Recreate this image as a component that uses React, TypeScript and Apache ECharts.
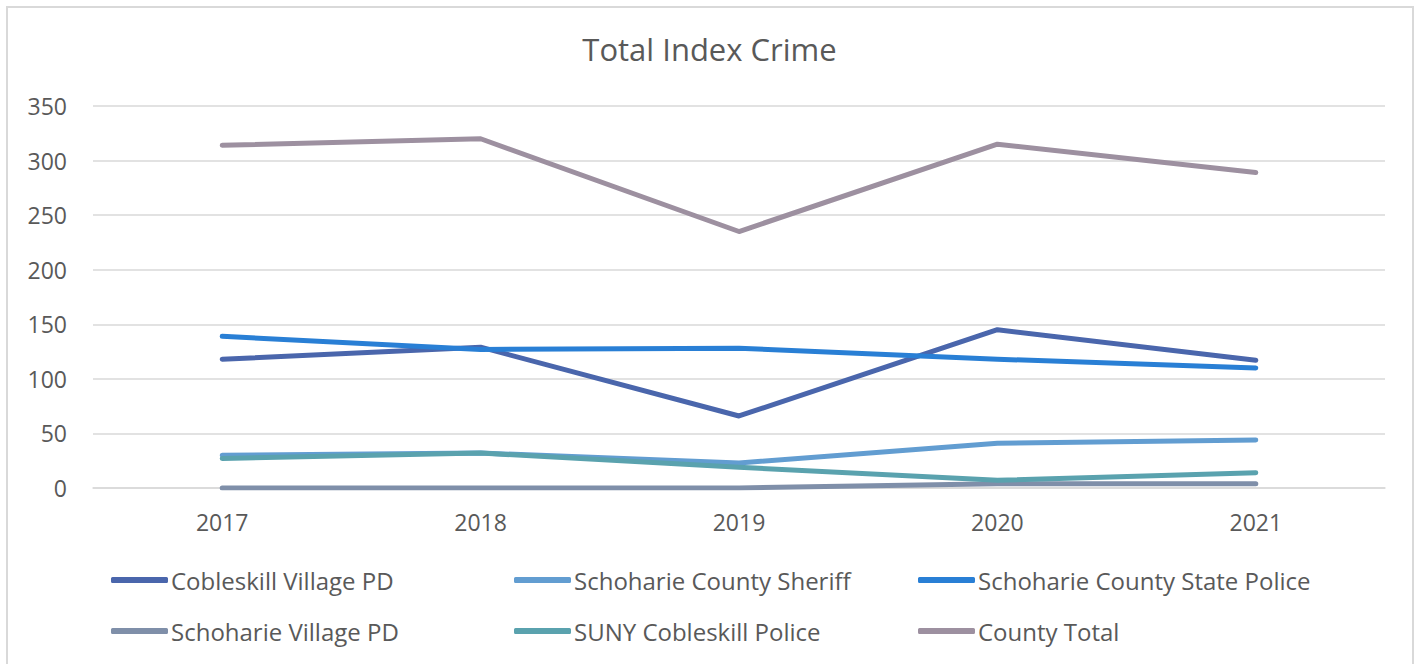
import React, { useEffect, useRef } from "react";
import * as echarts from "echarts";

const years = ["2017", "2018", "2019", "2020", "2021"];
const cobleskillVillagePD = [118, 129, 66, 145, 117];
const schoharieCountySheriff = [30, 32, 23, 41, 44];
const schoharieCountyStatePolice = [139, 127, 128, 118, 110];
const schoharieVillagePD = [0, 0, 0, 4, 4];
const sunyCobleskillPolice = [27, 32, 19, 7, 14];
const countyTotal = [314, 320, 235, 315, 289];

const seriesNames = [
  "Cobleskill Village PD",
  "Schoharie County Sheriff",
  "Schoharie County State Police",
  "Schoharie Village PD",
  "SUNY Cobleskill Police",
  "County Total",
];
const seriesData = [
  cobleskillVillagePD,
  schoharieCountySheriff,
  schoharieCountyStatePolice,
  schoharieVillagePD,
  sunyCobleskillPolice,
  countyTotal,
];
const colors = ["#4a66ac", "#629dd1", "#297fd5", "#7f8fa9", "#5aa2ae", "#9d90a0"];

const FONT = "'Open Sans', 'Noto Sans', sans-serif";

export default function App() {
  const ref = useRef<HTMLDivElement>(null);
  useEffect(() => {
    const chart = echarts.init(ref.current!, null, { renderer: "svg" });
    const legendCommon = {
      orient: "vertical" as const,
      top: 565,
      padding: 0,
      itemWidth: 57,
      itemHeight: 6,
      itemGap: 21,
      icon: "roundRect",
      textStyle: {
        fontFamily: FONT,
        fontSize: 24,
        lineHeight: 30,
        color: "#595959",
        padding: [0, 0, 0, -2],
      },
    };
    chart.setOption({
      animation: false,
      color: colors,
      title: {
        text: "Total Index Crime",
        left: "center",
        top: 28,
        textStyle: { fontFamily: FONT, fontSize: 31, fontWeight: "normal", color: "#595959" },
      },
      graphic: [
        {
          type: "rect",
          shape: { x: 7, y: 7, width: 1406, height: 680 },
          style: { fill: "none", stroke: "#d9d9d9", lineWidth: 2 },
          silent: true,
        },
      ],
      legend: [
        { ...legendCommon, left: 111, data: [seriesNames[0], seriesNames[3]] },
        { ...legendCommon, left: 514, data: [seriesNames[1], seriesNames[4]] },
        { ...legendCommon, left: 918, data: [seriesNames[2], seriesNames[5]] },
      ],
      grid: { left: 93, right: 34, top: 106, bottom: 176 },
      xAxis: {
        type: "category",
        data: years,
        boundaryGap: true,
        axisLine: { lineStyle: { color: "#d9d9d9", width: 1.5 } },
        axisTick: { show: false },
        axisLabel: { fontFamily: FONT, fontSize: 23, color: "#595959", margin: 22 },
      },
      yAxis: {
        type: "value",
        min: 0,
        max: 350,
        interval: 50,
        axisLine: { show: false },
        axisTick: { show: false },
        splitLine: { lineStyle: { color: "#d9d9d9", width: 1.5 } },
        axisLabel: { fontFamily: FONT, fontSize: 23, color: "#595959", margin: 26 },
      },
      series: seriesNames.map((name, i) => ({
        name,
        type: "line",
        data: seriesData[i],
        showSymbol: false,
        symbol: "none",
        lineStyle: { width: 5, color: colors[i], cap: "round", join: "round" },
        itemStyle: { color: colors[i] },
      })),
    });
    return () => chart.dispose();
  }, []);
  return (
    <div
      ref={ref}
      style={{ position: "absolute", left: 0, top: 0, width: 1419, height: 664 }}
    />
  );
}
